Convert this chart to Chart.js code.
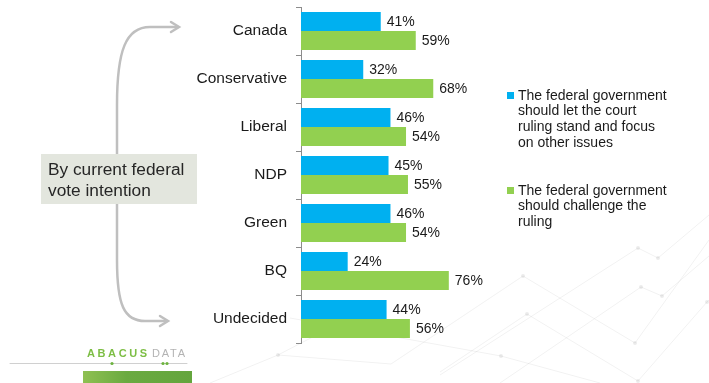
<!DOCTYPE html>
<html>
<head>
<meta charset="utf-8">
<script src="https://cdn.jsdelivr.net/npm/chart.js@4/dist/chart.umd.min.js"></script>
<style>
  html, body { margin: 0; padding: 0; background: #fff; }
  #wrap { width: 709px; height: 383px; position: relative; }
</style>
</head>
<body>
<div id="wrap"><canvas id="mycanvas" width="709" height="383"></canvas></div>
<script>
var groups = ['Canada', 'Conservative', 'Liberal', 'NDP', 'Green', 'BQ', 'Undecided'];
var letStand = [41, 32, 46, 45, 46, 24, 44];
var challenge = [59, 68, 54, 55, 54, 76, 56];
var seriesNames = [
  ['The federal government', 'should let the court', 'ruling stand and focus', 'on other issues'],
  ['The federal government', 'should challenge the', 'ruling']
];
var seriesColors = ['#00B0F0', '#92D050'];

var FONT = '"Liberation Sans", Arial, sans-serif';

// faint network pattern in the lower right corner
var deco = [
  [[391, 364], [523, 276], [635, 343], [709, 240]],
  [[440, 372], [527, 314], [638, 381], [707, 302], [709, 300]],
  [[500, 383], [641, 287], [662, 296], [709, 256]],
  [[440, 375], [638, 248], [658, 258], [709, 215]],
  [[290, 318], [501, 356], [600, 383]],
  [[210, 383], [278, 355], [330, 328]],
  [[278, 355], [391, 364]]
];

var backdrop = {
  id: 'backdrop',
  beforeDraw: function(chart) {
    var ctx = chart.ctx;
    ctx.save();
    ctx.strokeStyle = 'rgba(0,0,0,0.055)';
    ctx.fillStyle = 'rgba(0,0,0,0.08)';
    ctx.lineWidth = 1;
    deco.forEach(function(line) {
      ctx.beginPath();
      line.forEach(function(p, k) { k ? ctx.lineTo(p[0], p[1]) : ctx.moveTo(p[0], p[1]); });
      ctx.stroke();
      line.forEach(function(p, k) {
        if (k > 0 && k < line.length - 1) {
          ctx.beginPath(); ctx.arc(p[0], p[1], 2, 0, Math.PI * 2); ctx.fill();
        }
      });
    });
    ctx.restore();
  }
};

var valueLabels = {
  id: 'valueLabels',
  afterDatasetsDraw: function(chart) {
    var ctx = chart.ctx;
    ctx.save();
    ctx.font = '14px ' + FONT;
    ctx.fillStyle = '#1a1a1a';
    ctx.textAlign = 'left';
    ctx.textBaseline = 'middle';
    chart.data.datasets.forEach(function(ds, i) {
      chart.getDatasetMeta(i).data.forEach(function(bar, j) {
        ctx.fillText(ds.data[j] + '%', bar.x + 6, bar.y + 1);
      });
    });
    ctx.restore();
  }
};

function arrowHead(ctx, x, y) {
  ctx.beginPath();
  ctx.moveTo(x - 8, y - 5);
  ctx.lineTo(x, y);
  ctx.lineTo(x - 8, y + 5);
  ctx.stroke();
}

var extras = {
  id: 'extras',
  afterDraw: function(chart) {
    var ctx = chart.ctx;
    ctx.save();

    // bracket arrows
    ctx.strokeStyle = '#BFBFBF';
    ctx.lineWidth = 2.5;
    ctx.lineCap = 'round';
    ctx.beginPath();
    ctx.moveTo(117, 160);
    ctx.lineTo(117, 105);
    ctx.bezierCurveTo(117, 50, 126, 27, 150, 27);
    ctx.lineTo(178, 27);
    ctx.stroke();
    arrowHead(ctx, 179, 27);
    ctx.beginPath();
    ctx.moveTo(117, 200);
    ctx.lineTo(117, 260);
    ctx.bezierCurveTo(117, 305, 124, 321, 145, 321);
    ctx.lineTo(167, 321);
    ctx.stroke();
    arrowHead(ctx, 168, 321);

    // caption box
    ctx.fillStyle = '#E3E6DE';
    ctx.fillRect(41, 154, 156, 50);
    ctx.fillStyle = '#262626';
    ctx.font = '17.3px ' + FONT;
    ctx.textBaseline = 'alphabetic';
    ctx.fillText('By current federal', 48, 175);
    ctx.fillText('vote intention', 48, 196);

    // legend
    var legendY = [96, 191];
    ctx.font = '14px ' + FONT;
    ctx.textBaseline = 'middle';
    seriesNames.forEach(function(lines, i) {
      ctx.fillStyle = seriesColors[i];
      ctx.fillRect(507, legendY[i] - 4, 7, 7);
      ctx.fillStyle = '#1a1a1a';
      lines.forEach(function(t, k) {
        ctx.fillText(t, 518, legendY[i] + k * 15.6);
      });
    });

    // logo
    ctx.font = 'bold 11px ' + FONT;
    ctx.textBaseline = 'middle';
    ctx.letterSpacing = '2.6px';
    ctx.fillStyle = '#7DBE45';
    ctx.fillText('ABACUS', 87, 354);
    ctx.font = '11px ' + FONT;
    ctx.letterSpacing = '1.8px';
    ctx.fillStyle = '#B3B3B3';
    ctx.fillText('DATA', 152, 354);
    ctx.letterSpacing = '0px';
    ctx.strokeStyle = '#D0D0D0';
    ctx.lineWidth = 1;
    ctx.beginPath();
    ctx.moveTo(10, 363.5);
    ctx.lineTo(187, 363.5);
    ctx.stroke();
    ctx.fillStyle = '#6DB33F';
    [112, 163, 167].forEach(function(x) {
      ctx.beginPath(); ctx.arc(x, 363.5, 1.6, 0, Math.PI * 2); ctx.fill();
    });
    var g = ctx.createLinearGradient(83, 0, 192, 0);
    g.addColorStop(0, '#8FC052');
    g.addColorStop(0.4, '#6AAA40');
    g.addColorStop(1, '#64A53D');
    ctx.fillStyle = g;
    ctx.fillRect(83, 371, 109, 12);

    ctx.restore();
  }
};

var chartdata = {
  labels: groups,
  datasets: [
    { label: seriesNames[0].join(' '), data: letStand, backgroundColor: seriesColors[0] },
    { label: seriesNames[1].join(' '), data: challenge, backgroundColor: seriesColors[1] }
  ]
};

var ctx = document.getElementById('mycanvas');
var barGraph = new Chart(ctx, {
  type: 'bar',
  data: chartdata,
  plugins: [backdrop, valueLabels, extras],
  options: {
    indexAxis: 'y',
    responsive: false,
    animation: false,
    devicePixelRatio: 1,
    categoryPercentage: 0.79,
    barPercentage: 1,
    layout: { padding: { top: 7, bottom: 40, left: 0, right: 213.5 } },
    plugins: { legend: { display: false }, tooltip: { enabled: false } },
    scales: {
      x: { display: false, min: 0, max: 100 },
      y: {
        afterFit: function(s) {
          s.width = 301;
          s.paddingTop = 0;
          s.paddingBottom = 0;
        },
        border: { display: true, color: '#8C8C8C', width: 1 },
        grid: { drawOnChartArea: false, offset: true, tickLength: 5, color: '#8C8C8C' },
        ticks: { color: '#1a1a1a', padding: 9, font: { family: FONT, size: 15.5 } }
      }
    }
  }
});
</script>
</body>
</html>
